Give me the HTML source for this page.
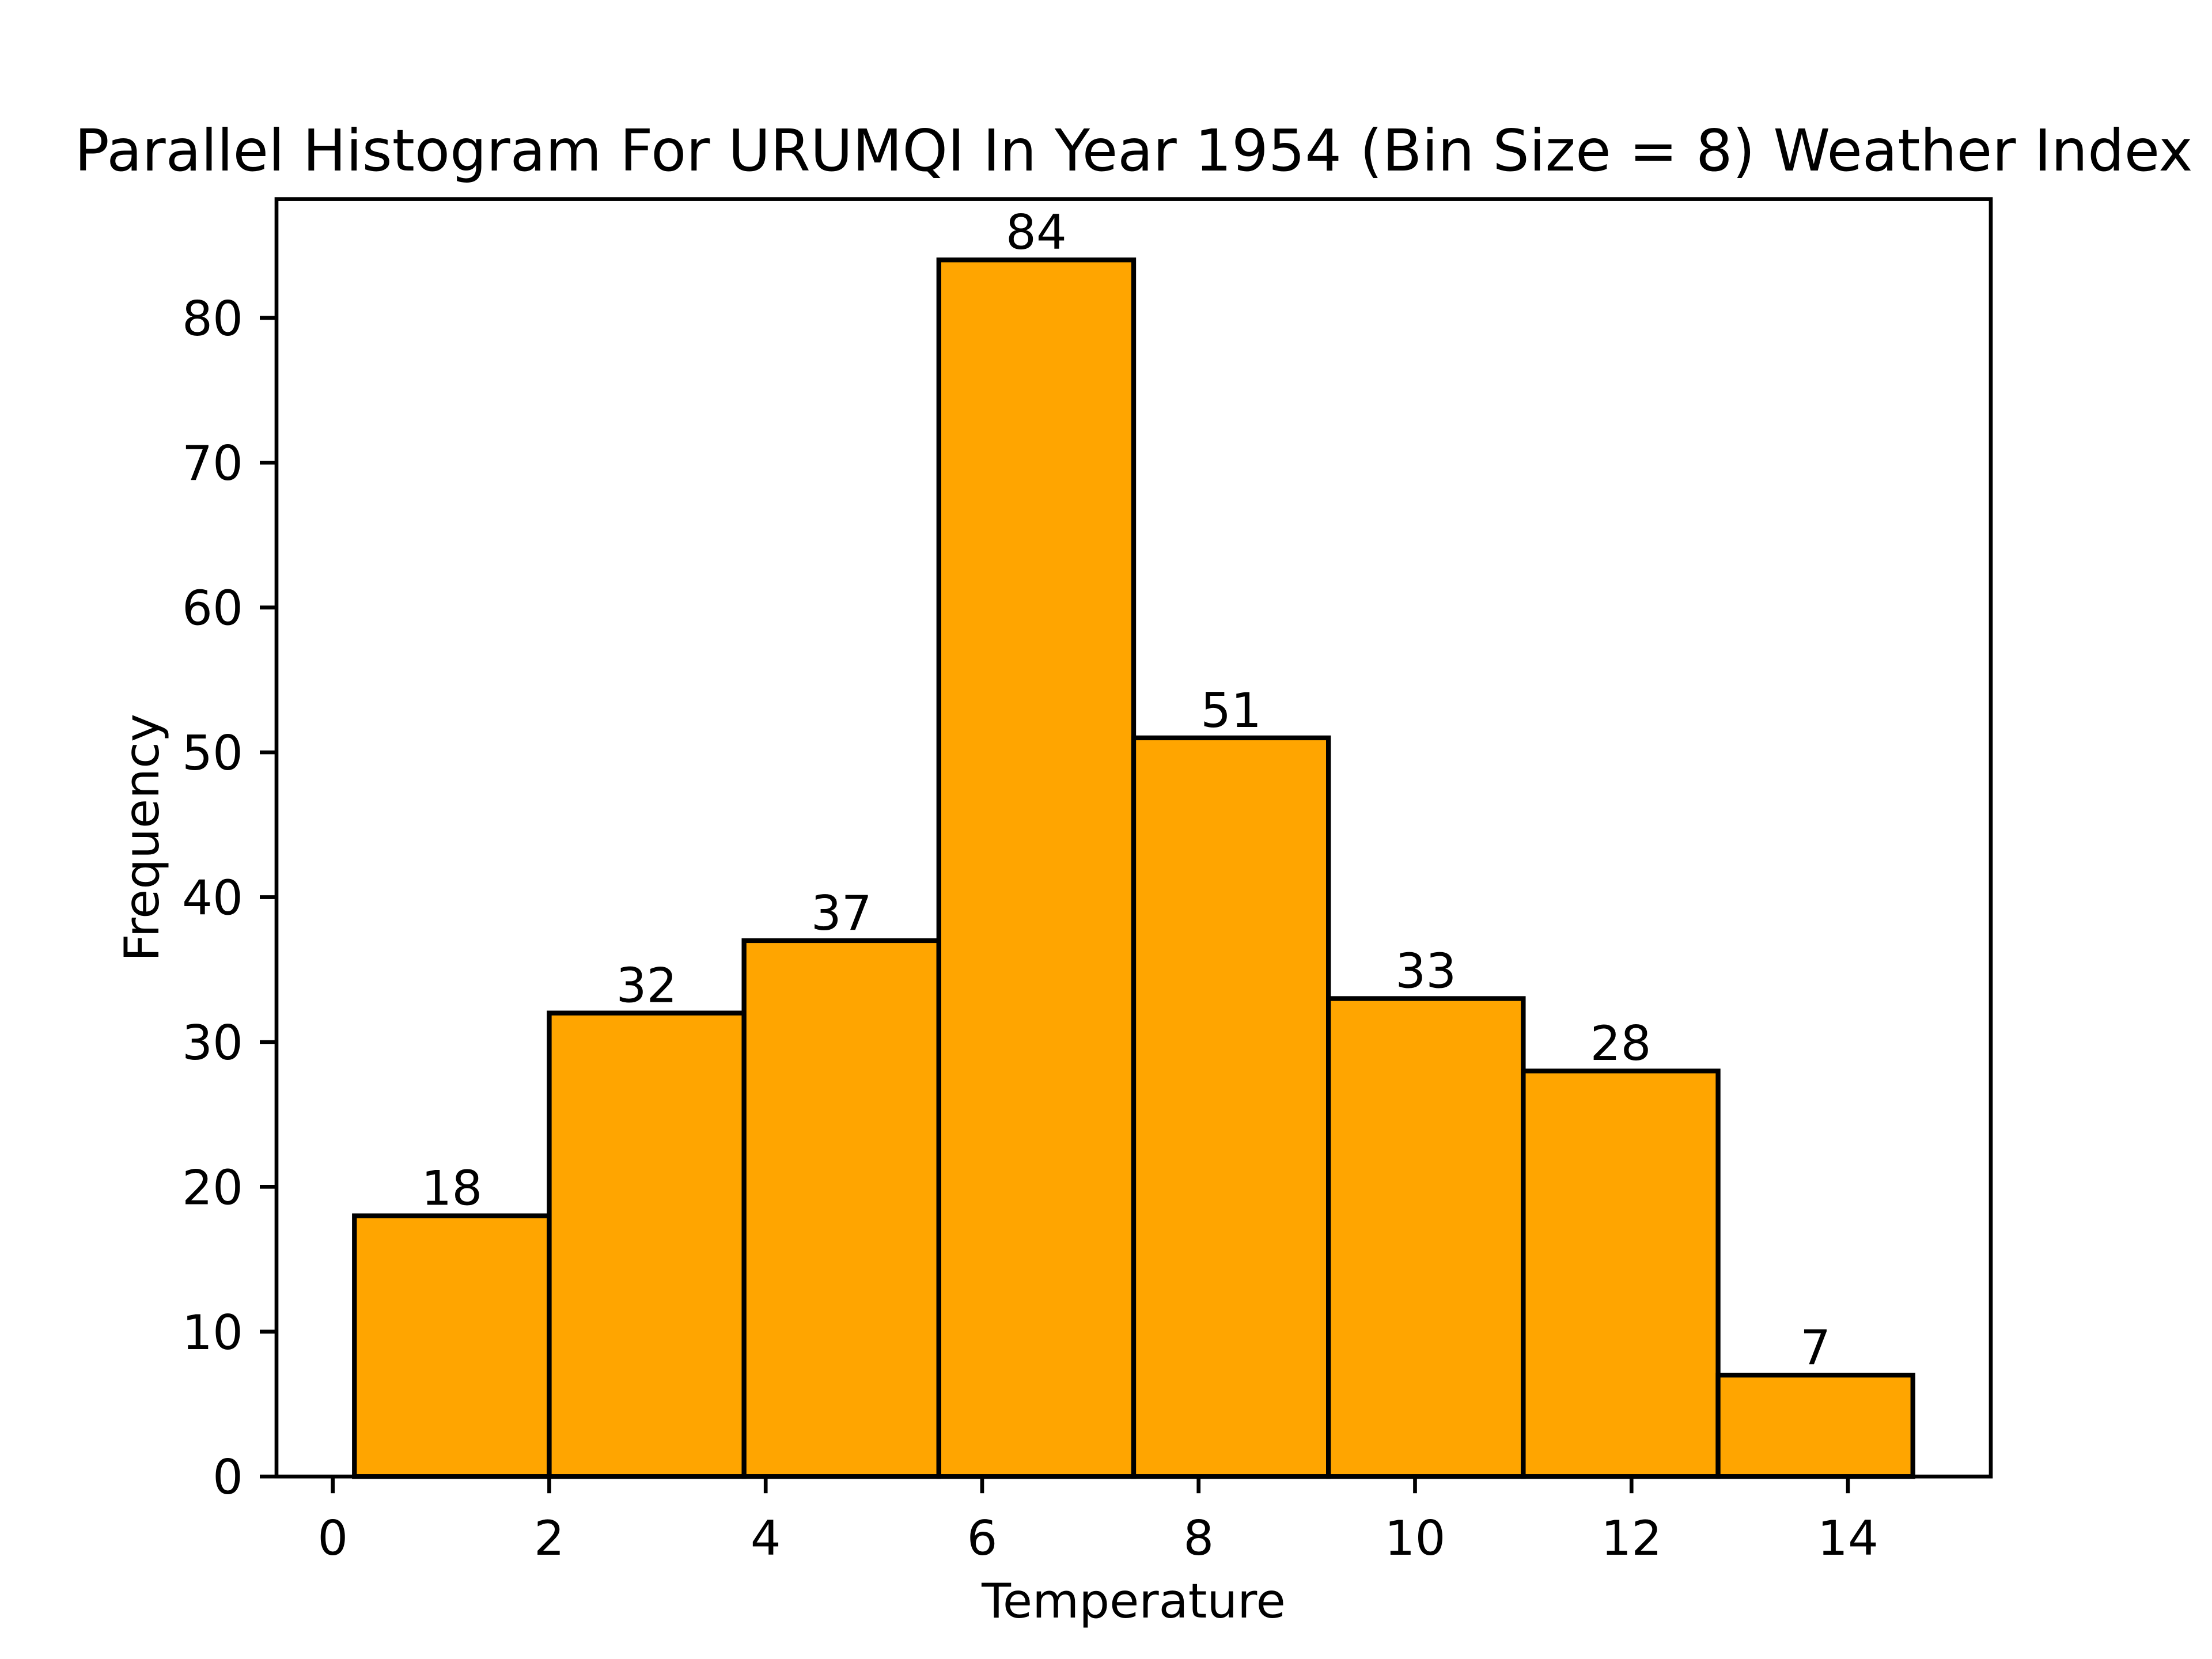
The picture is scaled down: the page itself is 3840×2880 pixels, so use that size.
<!DOCTYPE html>
<html><head><meta charset="utf-8"><style>html,body{margin:0;padding:0;background:#fff}svg{display:block}text{font-family:"DejaVu Sans","Liberation Sans",sans-serif;fill:#000}</style></head>
<body>
<svg id="chart" width="3840" height="2880" viewBox="0 0 3840 2880" xmlns="http://www.w3.org/2000/svg">
<rect width="3840" height="2880" fill="#fff"/>
<text x="1968" y="296" font-size="100" text-anchor="middle">Parallel Histogram For URUMQI In Year 1954 (Bin Size = 8) Weather Index</text>
<g id="bars"></g>
<g id="labels"></g>
<g id="xticks"></g>
<g id="yticks"></g>
<rect x="480" y="345.6" width="2976" height="2217.6" fill="none" stroke="#000" stroke-width="6.67"/>
<text x="1968" y="2808" font-size="83.3" text-anchor="middle">Temperature</text>
<text x="0" y="0" font-size="83.3" text-anchor="middle" transform="translate(275,1454) rotate(-90)">Frequency</text>
</svg>
<script>
const binEdges = [0.2, 2.0, 3.8, 5.6, 7.4, 9.2, 11.0, 12.8, 14.6];
const counts = [18, 32, 37, 84, 51, 33, 28, 7];
const xTicks = [0, 2, 4, 6, 8, 10, 12, 14];
const yTicks = [0, 10, 20, 30, 40, 50, 60, 70, 80];

const NS = 'http://www.w3.org/2000/svg';
const L = 480, R = 3456, T = 345.6, B = 2563.2;
const xmin0 = Math.min(...binEdges), xmax0 = Math.max(...binEdges);
const xm = (xmax0 - xmin0) * 0.05;
const xmin = xmin0 - xm, xmax = xmax0 + xm;
const ymax = Math.max(...counts) * 1.05;
function sx(v){ return L + (v - xmin) / (xmax - xmin) * (R - L); }
function sy(v){ return B - v / ymax * (B - T); }
function mk(tag, attrs, parent){ const e = document.createElementNS(NS, tag); for (const k in attrs) e.setAttribute(k, attrs[k]); parent.appendChild(e); return e; }

const gb = document.getElementById('bars'), gl = document.getElementById('labels');
counts.forEach((c, i) => {
  const x0 = sx(binEdges[i]), x1 = sx(binEdges[i+1]);
  const r = mk('rect', {x: x0, y: sy(c), width: x1 - x0, height: B - sy(c), fill: '#FFA500', stroke: '#000', 'stroke-width': 8.33}, gb);
  
  
  const t = mk('text', {x: (x0 + x1) / 2, y: sy(c) - 19, 'font-size': 83.3, 'text-anchor': 'middle'}, gl);
  t.textContent = c;
  
  
});
const gx = document.getElementById('xticks');
xTicks.forEach(v => {
  const x = sx(v);
  const l = mk('line', {x1: x, x2: x, y1: B, y2: B + 29, stroke: '#000', 'stroke-width': 6.67}, gx);
  
  
  const t = mk('text', {x: x, y: 2699, 'font-size': 83.3, 'text-anchor': 'middle'}, gx);
  t.textContent = v;
  
  
});
const gy = document.getElementById('yticks');
yTicks.forEach(v => {
  const y = sy(v);
  const l = mk('line', {x1: L - 29, x2: L, y1: y, y2: y, stroke: '#000', 'stroke-width': 6.67}, gy);
  
  
  const t = mk('text', {x: 422, y: y + 30, 'font-size': 83.3, 'text-anchor': 'end'}, gy);
  t.textContent = v;
  
  
});
</script>
</body></html>
